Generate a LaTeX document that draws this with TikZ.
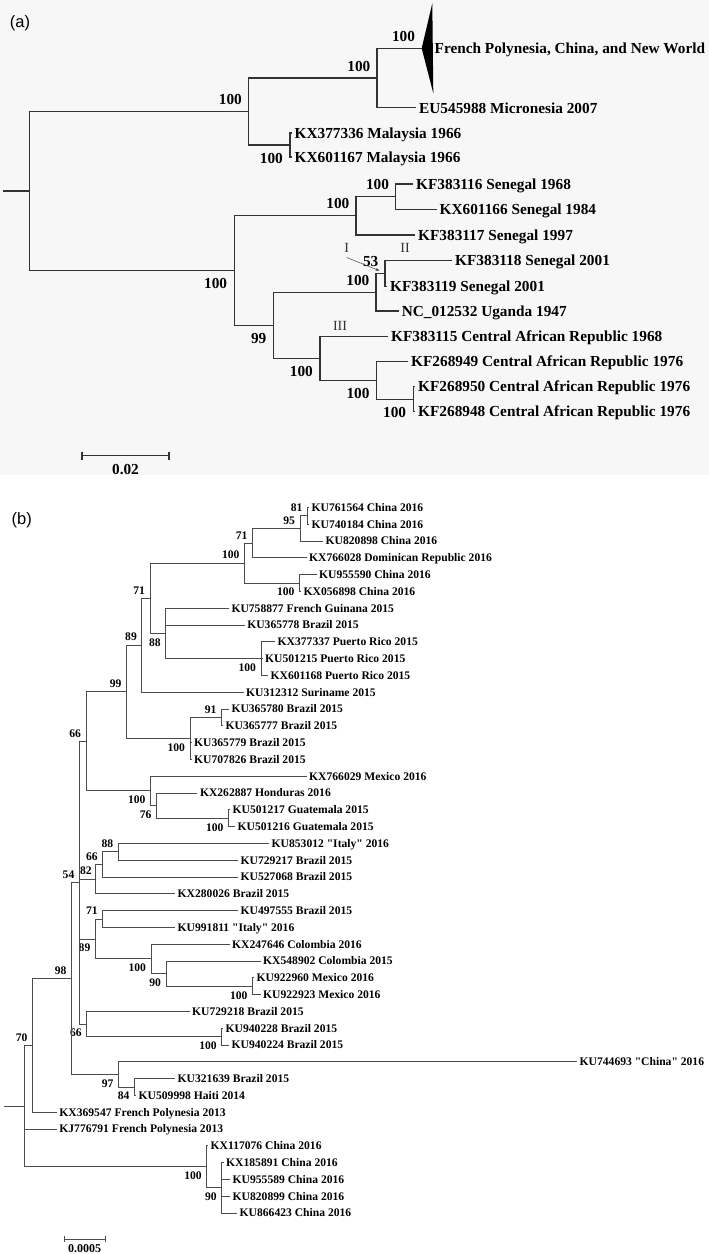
\documentclass[tikz,border=0pt]{standalone}
\usepackage{fontspec}
\setmainfont{Liberation Serif}
\newfontfamily\panelfont{Liberation Sans}
\usetikzlibrary{arrows.meta}

\tikzset{
  bra/.style={line width=1.3pt, black!80},
  brb/.style={line width=0.8pt, black!70},
  tipa/.style={anchor=west, inner xsep=3pt, inner ysep=0pt, text height=10.4pt, text depth=0pt, font=\fontsize{15.3}{18}\selectfont\bfseries},
  tipb/.style={anchor=west, inner xsep=2.5pt, inner ysep=0pt, text height=7.9pt, text depth=0pt, font=\fontsize{11.6}{14}\selectfont\bfseries},
  bsa/.style={inner sep=0pt, font=\fontsize{15.3}{18}\selectfont\bfseries},
  bsb/.style={inner sep=0pt, font=\fontsize{11.6}{14}\selectfont\bfseries},
  ula/.style={label={[bsa, xshift=-6.5pt, yshift=6.5pt]above left:#1}},
  dla/.style={label={[bsa, xshift=-7pt, yshift=-8pt]below left:#1}},
  ulb/.style={label={[bsb, xshift=-4.8pt, yshift=3.8pt]above left:#1}},
  dlb/.style={label={[bsb, xshift=-4.8pt, yshift=-5pt]below left:#1}},
  clade/.style={inner sep=0pt, font=\fontsize{14}{16}\selectfont, black!80},
  panel/.style={inner sep=0pt, font=\panelfont\fontsize{16.5}{18}\selectfont},
}
\newcommand{\qd}[1]{\textquotedbl#1\textquotedbl}

\begin{document}
\begin{tikzpicture}[x=1pt, y=-1pt]
\useasboundingbox (0,0) rectangle (709,1254);

% ---------- panel (a)
\fill[black!3] (0,0) rectangle (709,475);
\node[panel] (pa) at (20,23.3) {(a)};

% inner nodes
\coordinate (ra0) at (3,191);
\coordinate (ra) at (29.3,191);
\coordinate[ula=100] (n2) at (248.5,111.5);
\coordinate[ula=100] (n1) at (377,78);
\coordinate[ula=100] (na0) at (421.7,48.3);
\coordinate[dla=100] (nm) at (290,145);
\coordinate[dla=100] (n3) at (234.3,270.6);
\coordinate[ula=100] (n4) at (356,215.8);
\coordinate[ula=100] (n5) at (395.7,196.7);
\coordinate[dla=99] (n7) at (273.5,325.4);
\coordinate[ula=100] (n6) at (376,292.3);
\coordinate[ula=53] (n67) at (385,273.7);
\coordinate[dla=100] (n8) at (320,358.5);
\coordinate[dla=100] (n9) at (376.7,380.4);
\coordinate[dla=100] (n10) at (413.3,399.2);

% collapsed clade
\fill (na0) -- (432.3,3.3) -- (433.3,93.3) -- cycle;
\node[tipa, inner xsep=1.2pt] (fp) at (433.3,48.3) {French Polynesia, China, and New World};

% tips
\node[tipa] (eu) at (416,107.8) {EU545988 Micronesia 2007};
\node[tipa] (my1) at (291.5,133) {KX377336 Malaysia 1966};
\node[tipa] (my2) at (291.5,157) {KX601167 Malaysia 1966};
\node[tipa] (sn68) at (413,184) {KF383116 Senegal 1968};
\node[tipa] (sn84) at (436.5,209.3) {KX601166 Senegal 1984};
\node[tipa] (sn97) at (415,235) {KF383117 Senegal 1997};
\node[tipa] (sn01a) at (452,260.7) {KF383118 Senegal 2001};
\node[tipa] (sn01b) at (387,286.7) {KF383119 Senegal 2001};
\node[tipa] (ug47) at (398.6,311) {NC\_012532 Uganda 1947};
\node[tipa] (ca68) at (388,336.7) {KF383115 Central African Republic 1968};
\node[tipa] (ca49) at (408,361.7) {KF268949 Central African Republic 1976};
\node[tipa] (ca50) at (415,386.7) {KF268950 Central African Republic 1976};
\node[tipa] (ca48) at (415,411.7) {KF268948 Central African Republic 1976};

% branches
\draw[bra] (ra0) -- (ra);
\foreach \p/\c in {ra/n2, ra/n3, n2/n1, n2/nm, n1/na0, n1/eu, nm/my1, nm/my2,
    n3/n4, n3/n7, n4/n5, n4/sn97, n5/sn68, n5/sn84, n7/n6, n7/n8,
    n6/n67, n6/ug47, n67/sn01a, n67/sn01b, n8/ca68, n8/n9,
    n9/ca49, n9/n10, n10/ca50, n10/ca48}
  \draw[bra] (\p) |- (\c);

% lineage marks
\node[clade] (cI) at (346.7,247.7) {I};
\node[clade] (cII) at (405,247.7) {II};
\node[clade] (cIII) at (340,325.7) {III};
\coordinate (cIend) at (379.5,270.7);
\draw[-{Stealth[length=4pt,width=3pt]}, line width=0.5pt, black!75] ([yshift=-5pt]cI.south) -- (cIend);

% scale
\coordinate (sa1) at (82,455.7);
\coordinate (sa2) at (169,455.7);
\draw[bra] (sa1) -- (sa2);
\draw[bra] ([yshift=4pt]sa1) -- ([yshift=-4pt]sa1);
\draw[bra] ([yshift=4pt]sa2) -- ([yshift=-4pt]sa2);
\node[bsa] (sal) at (125.5,469.3) {0.02};

% ---------- panel (b)
\node[panel] (pb) at (21.7,520.7) {(b)};

% tips
\foreach \i/\x/\t in {1/309/KU761564 China 2016, 2/309/KU740184 China 2016,
    3/323/KU820898 China 2016, 4/306.5/KX766028 Dominican Republic 2016,
    5/316.5/KU955590 China 2016, 6/301/KX056898 China 2016,
    7/228.8/KU758877 French Guinana 2015, 8/244.6/KU365778 Brazil 2015,
    9/275/KX377337 Puerto Rico 2015, 10/262.5/KU501215 Puerto Rico 2015,
    11/268/KX601168 Puerto Rico 2015, 12/243.5/KU312312 Suriname 2015,
    13/228.8/KU365780 Brazil 2015, 14/223/KU365777 Brazil 2015,
    15/191.5/KU365779 Brazil 2015, 16/191.5/KU707826 Brazil 2015,
    17/306.5/KX766029 Mexico 2016, 18/197.3/KX262887 Honduras 2016,
    19/230/KU501217 Guatemala 2015, 20/235/KU501216 Guatemala 2015,
    21/269/KU853012 \qd{Italy} 2016, 22/238/KU729217 Brazil 2015,
    23/238/KU527068 Brazil 2015, 24/175/KX280026 Brazil 2015,
    25/238/KU497555 Brazil 2015, 26/175/KU991811 \qd{Italy} 2016,
    27/229.5/KX247646 Colombia 2016, 28/260.5/KX548902 Colombia 2015,
    29/254/KU922960 Mexico 2016, 30/260.5/KU922923 Mexico 2016,
    31/189.5/KU729218 Brazil 2015, 32/223/KU940228 Brazil 2015,
    33/229/KU940224 Brazil 2015, 34/577/KU744693 \qd{China} 2016,
    35/175/KU321639 Brazil 2015, 36/136/KU509998 Haiti 2014,
    37/56.7/KX369547 French Polynesia 2013, 38/56.7/KJ776791 French Polynesia 2013,
    39/208/KX117076 China 2016, 40/223.5/KX185891 China 2016,
    41/230/KU955589 China 2016, 42/230/KU820899 China 2016,
    43/237/KU866423 China 2016}
  \node[tipb] (l\i) at (\x,{507.3+(\i-1)*16.8}) {\t};

% inner nodes
\coordinate (rb0) at (4,1106);
\coordinate (rb) at (24.3,1106);
\coordinate[ulb=70] (n70) at (32.5,1045.2);
\coordinate[ulb=98] (n98) at (71.5,978.4);
\coordinate[ulb=54] (n54) at (79.3,882.5);
\coordinate[ulb=66] (n66a) at (86,741.2);
\coordinate[ulb=99] (n99) at (126.5,691.7);
\coordinate[ulb=89] (n89) at (141.8,645);
\coordinate[ulb=71] (n71b) at (150,598);
\coordinate[ulb=100] (n100b) at (244.5,563);
\coordinate[ulb=71] (n71a) at (252.5,543);
\coordinate[ulb=95] (n95) at (300,528.3);
\coordinate[ulb=81] (n81) at (307.5,515.7);
\coordinate[dlb=100] (n100a) at (299.5,582.9);
\coordinate[dlb=88] (n88) at (165.7,633.3);
\coordinate[dlb=100] (n100c) at (261,658.5);
\coordinate[dlb=100] (n100d) at (190,738.3);
\coordinate[ulb=91] (n91) at (221.5,717.3);
\coordinate[dlb=100] (n100e) at (150.5,790.8);
\coordinate[dlb=76] (n76) at (156.5,805.5);
\coordinate[dlb=100] (n100f) at (228.5,818.1);
\coordinate[label={[bsb, xshift=-3.5pt, yshift=3.8pt]above left:82}] (n82) at (95.3,879);
\coordinate[ulb=66] (n66b) at (102.7,864.3);
\coordinate[ulb=88] (n88b) at (118.2,851.7);
\coordinate[dlb=89] (n89b) at (95.3,938.9);
\coordinate[ulb=71] (n71c) at (102.7,918.9);
\coordinate[dlb=100] (n100g) at (151,958.8);
\coordinate[dlb=90] (n90a) at (166,973.5);
\coordinate[dlb=100] (n100h) at (252.5,986.1);
\coordinate[dlb=66] (n66c) at (86.7,1023.9);
\coordinate[dlb=100] (n100i) at (221.7,1036.5);
\coordinate[dlb=97] (n97) at (118.5,1074.3);
\coordinate[dlb=84] (n84) at (134.5,1086.9);
\coordinate[dlb=100] (n100j) at (206.7,1166.7);
\coordinate[dlb=90] (n90b) at (221.7,1187.7);

% branches
\draw[brb] (rb0) -- (rb);
\foreach \p/\c in {n81/l1, n81/l2, n95/n81, n95/l3, n71a/n95, n71a/l4,
    n100a/l5, n100a/l6, n100b/n71a, n100b/n100a,
    n100c/l9, n100c/l10, n100c/l11, n88/l7, n88/l8, n88/n100c,
    n71b/n100b, n71b/n88, n89/n71b, n89/l12,
    n91/l13, n91/l14, n100d/n91, n100d/l15, n100d/l16, n99/n89, n99/n100d,
    n100f/l19, n100f/l20, n76/l18, n76/n100f, n100e/l17, n100e/n76,
    n66a/n99, n66a/n100e,
    n88b/l21, n88b/l22, n66b/n88b, n66b/l23, n82/n66b, n82/l24,
    n71c/l25, n71c/l26, n100h/l29, n100h/l30, n90a/l28, n90a/n100h,
    n100g/l27, n100g/n90a, n89b/n71c, n89b/n100g,
    n100i/l32, n100i/l33, n66c/l31, n66c/n100i,
    n54/n66a, n54/n82, n54/n89b, n54/n66c,
    n84/l35, n84/l36, n97/l34, n97/n84, n98/n54, n98/n97,
    n70/n98, n70/l37,
    n90b/l40, n90b/l41, n90b/l42, n90b/l43, n100j/l39, n100j/n90b,
    rb/n70, rb/l38, rb/n100j}
  \draw[brb] (\p) |- (\c);

% scale
\coordinate (sb1) at (64.3,1239.3);
\coordinate (sb2) at (105,1239.3);
\draw[brb] (sb1) -- (sb2);
\draw[brb] ([yshift=3pt]sb1) -- ([yshift=-3pt]sb1);
\draw[brb] ([yshift=3pt]sb2) -- ([yshift=-3pt]sb2);
\node[bsb, font=\fontsize{12}{14}\selectfont\bfseries] (sbl) at (84.5,1249) {0.0005};
\end{tikzpicture}
\end{document}
